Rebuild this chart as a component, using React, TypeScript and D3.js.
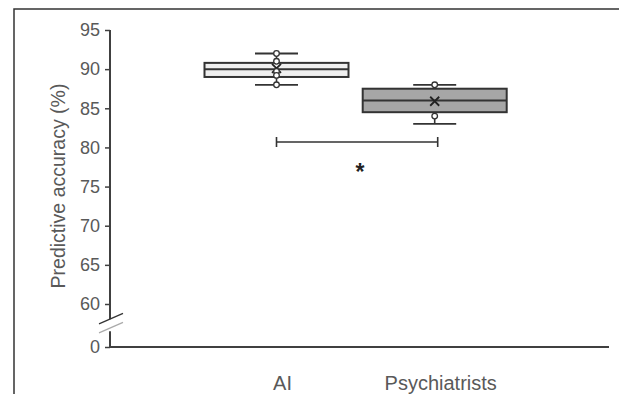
import React, { useEffect, useRef } from 'react';
import * as d3 from 'd3';

// Box summaries (percent)
const categories = ['AI', 'Psychiatrists'];
const whiskerLow = [88, 83];
const q1 = [89, 84.5];
const median = [90, 86];
const q3 = [90.8, 87.5];
const whiskerHigh = [92, 88];
const means = [90.1, 85.9];
const points = [
  [92, 91, 89.7, 89.2, 88],
  [88, 84],
];
const boxFills = ['#efefef', '#a6a6a6'];
const yTicks = [0, 60, 65, 70, 75, 80, 85, 90, 95];
const sigLevel = 80.7;

export default function App() {
  const svgRef = useRef<SVGSVGElement>(null);

  useEffect(() => {
    const W = 619, H = 394;
    const svg = d3.select(svgRef.current)
      .attr('width', W)
      .attr('height', H)
      .attr('viewBox', `0 0 ${W} ${H}`);
    svg.selectAll('*').remove();

    const font = '"Liberation Sans", Arial, sans-serif';
    const textColor = '#595959';
    const axisColor = '#404040';
    const left = 110, right = 609;

    // Broken y scale: 0..60 squeezed, 60..95 linear
    const y = d3.scaleLinear().domain([0, 60, 95]).range([347, 304, 30]);
    const x = d3.scalePoint<string>().domain(categories).range([276.5, 434.7]);
    const boxW = 144;
    const capW = 43;

    // outer frame
    svg.append('rect')
      .attr('x', 14).attr('y', 9)
      .attr('width', W + 20).attr('height', H + 20)
      .attr('fill', 'white')
      .attr('stroke', '#333')
      .attr('stroke-width', 1.5);

    // y axis
    const yAxis = svg.append('g')
      .attr('transform', `translate(${left},0)`)
      .call(d3.axisLeft(y).tickValues(yTicks).tickSize(5).tickPadding(5));
    yAxis.select('.domain').remove();
    yAxis.selectAll('line').attr('stroke', axisColor).attr('stroke-width', 1.5);
    yAxis.selectAll('text')
      .attr('font-size', '18px')
      .attr('font-family', font)
      .attr('fill', textColor);

    const breakY = y(60) + 0.45 * (y(0) - y(60));
    svg.append('line')
      .attr('x1', left).attr('x2', left)
      .attr('y1', y(95)).attr('y2', breakY - 4)
      .attr('stroke', axisColor).attr('stroke-width', 2);
    svg.append('line')
      .attr('x1', left).attr('x2', left)
      .attr('y1', breakY + 8).attr('y2', y(0) + 1)
      .attr('stroke', axisColor).attr('stroke-width', 2);

    // break slashes
    [[-4.5, '#333'], [4.5, '#aaa']].forEach(([off, c]) => {
      const cy = breakY + (off as number);
      svg.append('line')
        .attr('x1', left - 11).attr('y1', cy + 5)
        .attr('x2', left + 13).attr('y2', cy - 5.5)
        .attr('stroke', c as string).attr('stroke-width', 1.3);
    });

    // x axis
    svg.append('line')
      .attr('x1', left).attr('x2', right)
      .attr('y1', y(0)).attr('y2', y(0))
      .attr('stroke', axisColor).attr('stroke-width', 2);

    svg.append('g')
      .selectAll('text')
      .data(categories)
      .join('text')
        .attr('x', d => (x(d) as number) + 6)
        .attr('y', 390)
        .attr('text-anchor', 'middle')
        .attr('font-size', '20px')
        .attr('font-family', font)
        .attr('fill', textColor)
        .text(d => d);

    // y label
    svg.append('text')
      .attr('transform', 'rotate(-90)')
      .attr('x', -186)
      .attr('y', 65)
      .attr('text-anchor', 'middle')
      .attr('font-size', '19.5px')
      .attr('font-family', font)
      .attr('fill', textColor)
      .text('Predictive accuracy (%)');

    // boxes
    const stroke = '#333';
    categories.forEach((cat, i) => {
      const cx = x(cat) as number;
      const g = svg.append('g');
      // whisker stems
      g.append('line')
        .attr('x1', cx).attr('x2', cx)
        .attr('y1', y(whiskerHigh[i])).attr('y2', y(q3[i]))
        .attr('stroke', stroke).attr('stroke-width', 1.6);
      g.append('line')
        .attr('x1', cx).attr('x2', cx)
        .attr('y1', y(q1[i])).attr('y2', y(whiskerLow[i]))
        .attr('stroke', stroke).attr('stroke-width', 1.6);
      // caps
      [whiskerHigh[i], whiskerLow[i]].forEach(v => {
        g.append('line')
          .attr('x1', cx - capW / 2).attr('x2', cx + capW / 2)
          .attr('y1', y(v)).attr('y2', y(v))
          .attr('stroke', stroke).attr('stroke-width', 1.8);
      });
      g.append('rect')
        .attr('x', cx - boxW / 2)
        .attr('y', y(q3[i]))
        .attr('width', boxW)
        .attr('height', y(q1[i]) - y(q3[i]))
        .attr('fill', boxFills[i])
        .attr('stroke', stroke)
        .attr('stroke-width', 2);
      g.append('line')
        .attr('x1', cx - boxW / 2).attr('x2', cx + boxW / 2)
        .attr('y1', y(median[i])).attr('y2', y(median[i]))
        .attr('stroke', stroke).attr('stroke-width', 2);
      // mean marker
      const my = y(means[i]);
      const s = 4.5;
      g.append('path')
        .attr('d', `M${cx - s},${my - s}L${cx + s},${my + s}M${cx - s},${my + s}L${cx + s},${my - s}`)
        .attr('stroke', '#222').attr('stroke-width', 1.8).attr('fill', 'none');
      // data points
      g.selectAll('circle')
        .data(points[i])
        .join('circle')
          .attr('cx', cx)
          .attr('cy', d => y(d))
          .attr('r', 2.8)
          .attr('fill', 'white')
          .attr('stroke', stroke)
          .attr('stroke-width', 1.3);
    });

    // significance bracket
    const x1 = x('AI') as number;
    const x2 = (x('Psychiatrists') as number) + 3;
    const sy = y(sigLevel);
    svg.append('path')
      .attr('d', `M${x1},${sy - 5}V${sy + 5}M${x1},${sy}H${x2}M${x2},${sy - 5}V${sy + 5}`)
      .attr('stroke', '#333').attr('stroke-width', 1.6).attr('fill', 'none');
    svg.append('text')
      .attr('x', (x1 + x2) / 2 + 3)
      .attr('y', sy + 38)
      .attr('text-anchor', 'middle')
      .attr('font-size', '23px')
      .attr('font-weight', 'bold')
      .attr('font-family', font)
      .attr('fill', '#222')
      .text('*');
  }, []);

  return (
    <svg
      ref={svgRef}
      style={{ position: 'fixed', left: 0, top: 0, display: 'block', background: 'white' }}
    />
  );
}
